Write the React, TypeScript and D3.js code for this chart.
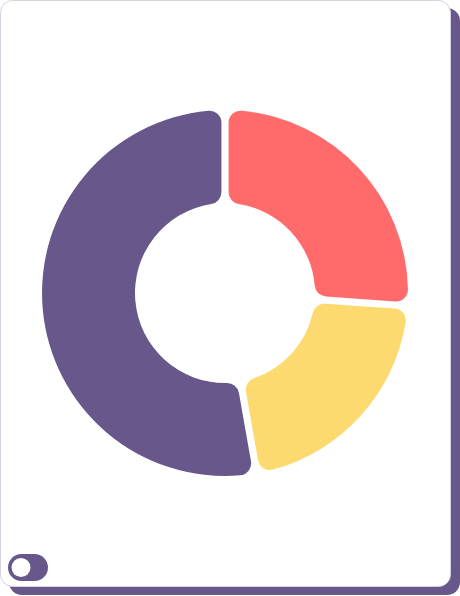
import React from "react";
import * as d3 from "d3";

const categories = ["A", "B", "C"];
const values = [26.0, 20.9, 53.1];
const colors = ["#ff6b6b", "#fdda6f", "#67578b"];

const W = 460;
const H = 596;

const App: React.FC = () => {
  const cx = 225;
  const cy = 293;
  const outer = 183;
  const inner = 90;

  const pie = d3
    .pie<number>()
    .sort(null)
    .value((d) => d)
    .padAngle(0.035);

  const arc = d3
    .arc<d3.PieArcDatum<number>>()
    .innerRadius(inner)
    .outerRadius(outer)
    .cornerRadius(12);

  const arcs = pie(values);

  return (
    <svg
      width={W}
      height={H}
      style={{ position: "absolute", left: 0, top: 0 }}
    >
      {/* card shadow */}
      <rect x={9} y={8} width={451} height={587} rx={13} fill="#67578b" />
      {/* card */}
      <rect
        x={0.5}
        y={0.5}
        width={450}
        height={586}
        rx={12}
        fill="#ffffff"
        stroke="#d6d1e0"
        strokeWidth={1}
      />
      <g transform={`translate(${cx},${cy})`}>
        {arcs.map((a, i) => (
          <path key={categories[i]} d={arc(a) ?? ""} fill={colors[i]} />
        ))}
      </g>
      {/* toggle */}
      <rect x={8} y={554} width={40} height={27} rx={13.5} fill="#67578b" />
      <circle cx={21} cy={567.5} r={9.5} fill="#ffffff" />
    </svg>
  );
};

export default App;
